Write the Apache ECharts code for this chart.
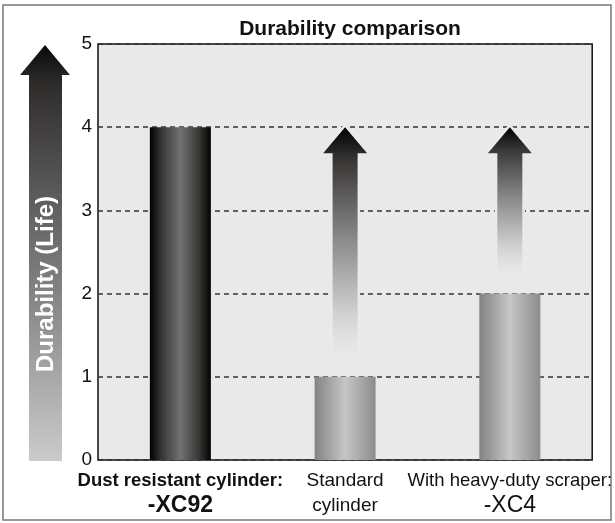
<!DOCTYPE html>
<html>
<head>
<meta charset="utf-8">
<script src="https://cdn.jsdelivr.net/npm/echarts@6/dist/echarts.min.js"></script>
<style>
  html, body { margin: 0; padding: 0; background: #fff; }
  #chart { width: 615px; height: 523px; }
</style>
</head>
<body>
<div id="chart"></div>
<script>
// categories and values
const categories = ['Dust resistant cylinder:\n-XC92', 'Standard\ncylinder', 'With heavy-duty scraper:\n-XC4']
const durability = [4, 1, 2]
// arrows: [category index, from value, to value]
const arrowTargets = [[1, 1, 4], [2, 2, 4]]
const yTicks = [0, 1, 2, 3, 4, 5]

const chart = echarts.init(document.getElementById('chart'))

const darkBar = new echarts.graphic.LinearGradient(0, 0, 1, 0, [
  { offset: 0, color: '#000000' },
  { offset: 0.2, color: '#3a3836' },
  { offset: 0.5, color: '#727272' },
  { offset: 0.8, color: '#3a3836' },
  { offset: 1, color: '#030303' }
])
const lightBar = () => new echarts.graphic.LinearGradient(0, 0, 1, 0, [
  { offset: 0, color: '#838383' },
  { offset: 0.5, color: '#c6c6c6' },
  { offset: 1, color: '#8c8c8c' }
])

function renderArrow (params, api) {
  const x = api.value(0)
  const top = api.coord([x, api.value(2)])
  const base = api.coord([x, api.value(1)])
  const cx = top[0]
  const tipY = top[1]
  const bottomY = base[1] - 18
  const headH = 26
  const headW = 22
  const shaftW = 12.5
  const pts = [
    [cx - shaftW, bottomY],
    [cx - shaftW, tipY + headH],
    [cx - headW, tipY + headH],
    [cx, tipY],
    [cx + headW, tipY + headH],
    [cx + shaftW, tipY + headH],
    [cx + shaftW, bottomY]
  ]
  return {
    type: 'group',
    children: [
      {
        type: 'polyline',
        shape: { points: pts },
        style: { stroke: '#e9eae9', lineWidth: 5, fill: null, lineJoin: 'miter' }
      },
      {
        type: 'polygon',
        shape: { points: pts },
        style: {
          fill: new echarts.graphic.LinearGradient(0, 0, 0, 1, [
            { offset: 0, color: '#000000' },
            { offset: 0.15, color: '#3a3837' },
            { offset: 0.5, color: '#8e8e8e' },
            { offset: 0.8, color: '#d0d0d0' },
            { offset: 1, color: 'rgba(233,234,233,0.6)' }
          ])
        }
      }
    ]
  }
}

const option = {
  animation: false,
  title: {
    text: 'Durability comparison',
    left: 345,
    top: 14,
    textAlign: 'center',
    textStyle: { fontFamily: 'Liberation Sans', fontWeight: 'bold', fontSize: 21, color: '#111' }
  },
  grid: {
    left: 98,
    right: 22,
    top: 44,
    bottom: 63,
    show: true,
    backgroundColor: '#e8e9e8',
    borderColor: '#111',
    borderWidth: 1.5
  },
  graphic: [
    {
      type: 'rect',
      shape: { x: 3, y: 5, width: 608, height: 515 },
      style: { fill: null, stroke: '#777', lineWidth: 1.5 },
      z: -10
    },
    {
      type: 'polygon',
      shape: {
        points: [[45, 45], [70, 75], [62, 75], [62, 461], [29, 461], [29, 75], [20, 75]]
      },
      style: {
        fill: new echarts.graphic.LinearGradient(0, 0, 0, 1, [
          { offset: 0, color: '#0a0a0a' },
          { offset: 0.1, color: '#302e2d' },
          { offset: 0.45, color: '#6a6a6a' },
          { offset: 1, color: '#cbcbcb' }
        ])
      }
    },
    {
      type: 'text',
      x: 46,
      y: 284,
      rotation: Math.PI / 2,
      style: {
        text: 'Durability (Life)',
        fill: '#fff',
        font: 'bold 24px "Liberation Sans"',
        align: 'center',
        verticalAlign: 'middle'
      }
    }
  ],
  xAxis: {
    type: 'category',
    data: categories,
    axisLine: { show: false },
    axisTick: { show: false },
    axisLabel: {
      interval: 0,
      margin: 8,
      formatter (value, idx) {
        const parts = value.split('\n')
        if (idx === 0) return '{b1|' + parts[0] + '}\n{b2|' + parts[1] + '}'
        if (idx === 1) return '{s|' + parts[0] + '}\n{s|' + parts[1] + '}'
        return '{r1|' + parts[0] + '}\n{r2|' + parts[1] + '}'
      },
      rich: {
        b1: { fontFamily: 'Liberation Sans', fontWeight: 'bold', fontSize: 18.5, color: '#111', lineHeight: 25 },
        b2: { fontFamily: 'Liberation Sans', fontWeight: 'bold', fontSize: 23, color: '#111', lineHeight: 25 },
        s: { fontFamily: 'Liberation Sans', fontSize: 19, color: '#111', lineHeight: 25 },
        r1: { fontFamily: 'Liberation Sans', fontSize: 18.5, color: '#111', lineHeight: 25 },
        r2: { fontFamily: 'Liberation Sans', fontSize: 23, color: '#111', lineHeight: 25 }
      }
    }
  },
  yAxis: {
    type: 'value',
    min: yTicks[0],
    max: yTicks[yTicks.length - 1],
    interval: 1,
    axisLine: { show: false },
    axisTick: { show: false },
    axisLabel: { fontFamily: 'Liberation Sans', fontSize: 19, color: '#111', margin: 6 },
    splitLine: { lineStyle: { type: [5, 4], color: '#333', width: 1.5 } }
  },
  series: [
    {
      type: 'bar',
      barWidth: 61,
      data: durability.map((v, i) => ({
        value: v,
        itemStyle: { color: i === 0 ? darkBar : lightBar() }
      }))
    },
    {
      type: 'custom',
      renderItem: renderArrow,
      data: arrowTargets,
      z: 3
    }
  ]
}

chart.setOption(option)
</script>
</body>
</html>
